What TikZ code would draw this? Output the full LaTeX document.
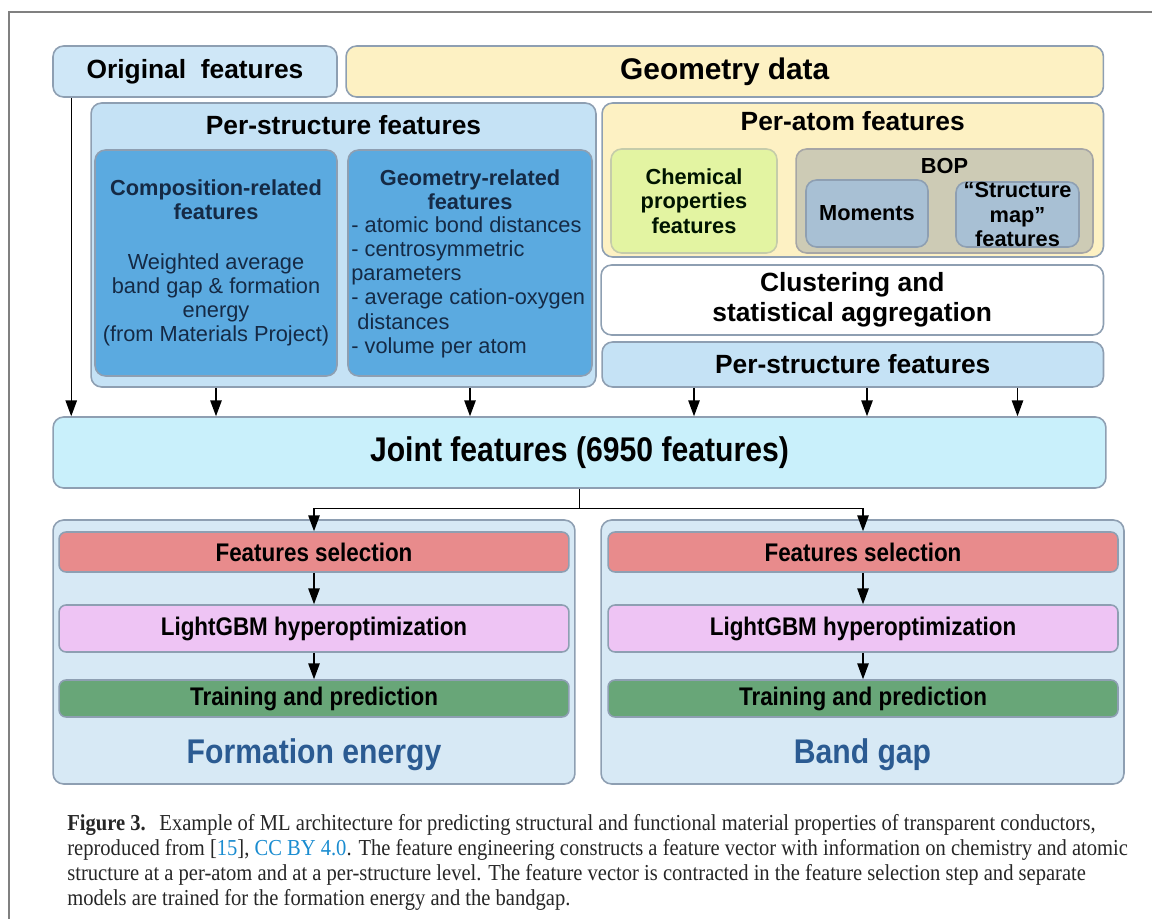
\documentclass[tikz,border=0pt]{standalone}
\usepackage{fontspec}
\setmainfont{Liberation Sans}
\newfontfamily\capfont[FakeStretch=0.9]{Liberation Serif}
\newfontfamily\condfont[FakeStretch=0.88]{Liberation Sans}
\usetikzlibrary{arrows.meta}
\definecolor{edge}{HTML}{8E9FB2}
\definecolor{origblue}{HTML}{CFE7F7}
\definecolor{psblue}{HTML}{C5E2F5}
\definecolor{midblue}{HTML}{5BAAE0}
\definecolor{geoyellow}{HTML}{FDF1C3}
\definecolor{chemgreen}{HTML}{E3F4A2}
\definecolor{bopgray}{HTML}{CDCBB5}
\definecolor{momblue}{HTML}{A8C0D4}
\definecolor{jointcyan}{HTML}{C9F0FB}
\definecolor{panelblue}{HTML}{D7E9F5}
\definecolor{fsred}{HTML}{E88B8C}
\definecolor{lgpink}{HTML}{EEC4F4}
\definecolor{tpgreen}{HTML}{68A678}
\definecolor{fetext}{HTML}{2B5B92}
\definecolor{navy}{HTML}{152A45}
\definecolor{capblue}{HTML}{1A8CD0}
\begin{document}
\begin{tikzpicture}[x=0.02cm,y=-0.02cm,
  box/.style={draw=edge,line width=0.9pt,rounded corners=6pt,inner sep=0pt},
  bar/.style={box,rounded corners=4pt,minimum width=10.2cm},
  arr/.style={-{Triangle[length=9pt,width=6.5pt]},line width=0.7pt},
  ttl/.style={font=\fontsize{15}{17}\selectfont\bfseries},
  sub/.style={font=\fontsize{12.4}{13.8}\selectfont\bfseries},
  body/.style={font=\fontsize{12.4}{13.8}\selectfont},
  stepbox/.style={bar,font=\condfont\fontsize{14.5}{16}\selectfont\bfseries}]
\useasboundingbox (0,0) rectangle (1152,919);
\draw[black!50,line width=1pt] (1152,12) -- (9,12) -- (9,919);

% top row
\node[box,fill=origblue,minimum width=5.68cm,minimum height=1.02cm,ttl] (orig) at (195,71.5) {Original\ \ features};
\node[box,fill=geoyellow,minimum width=15.15cm,minimum height=1.02cm,font=\fontsize{17}{19}\selectfont\bfseries] (geom) at (724.75,71.5) {Geometry data};

% per-structure block
\node[box,fill=psblue,minimum width=10.1cm,minimum height=5.68cm] (perstruct) at (343.5,245) {};
\node[ttl] (pstitle) at (343.5,125) {Per-structure features};
\node[box,fill=midblue,minimum width=4.84cm,minimum height=4.52cm] (comp) at (216,263) {};
\node[align=center,text=navy,body] (comptext) at (comp) {\textbf{Composition-related}\\\textbf{features}\\[2.2ex]Weighted average\\band gap \& formation\\energy\\(from Materials Project)};
\node[box,fill=midblue,minimum width=4.88cm,minimum height=4.52cm] (geomrel) at (470,263) {};
\node[align=center,text=navy,sub] (grtitle) at (470,189.5) {Geometry-related\\features};
\node[anchor=north west,align=left,text=navy,body,inner sep=0pt] (grlist) at (351,216) {- atomic bond distances\\- centrosymmetric\\parameters\\- average cation-oxygen\\\ distances\\- volume per atom};

% per-atom block
\node[box,fill=geoyellow,minimum width=10.03cm,minimum height=3.08cm] (peratom) at (852.75,180) {};
\node[ttl] (patitle) at (852.75,121) {Per-atom features};
\node[box,draw=chemgreen!70!black!60,fill=chemgreen,minimum width=3.32cm,minimum height=2.08cm,align=center,sub,text=black!80!green!40!black] (chem) at (694,201) {Chemical\\properties\\features};
\node[box,draw=black!35,fill=bopgray,minimum width=5.94cm,minimum height=2.08cm] (bop) at (944.5,201) {};
\node[sub] (boptitle) at (944.5,166) {BOP};
\node[box,fill=momblue,minimum width=2.44cm,minimum height=1.34cm,sub] (moments) at (867,213.5) {Moments};
\node[box,fill=momblue,minimum width=2.46cm,minimum height=1.3cm,sub,align=center] (smap) at (1017.5,214.5) {``Structure\\map''\\features};

\node[box,fill=white,minimum width=10.05cm,minimum height=1.4cm,ttl,align=center] (clust) at (852.25,300) {Clustering and\\statistical aggregation};
\node[box,fill=psblue,minimum width=10.03cm,minimum height=0.9cm,ttl] (psright) at (852.75,364.5) {Per-structure features};

% joint
\node[box,fill=jointcyan,minimum width=21.06cm,minimum height=1.42cm,font=\condfont\fontsize{19.5}{21}\selectfont\bfseries] (joint) at (579.5,452.5) {Joint features (6950 features)};

\coordinate (o1) at ([xshift=0.38cm]orig.south west);
\draw[arr] (o1) -- (o1 |- joint.north);
\foreach \n in {comp,geomrel}
  \draw[arr] (perstruct.south -| \n) -- (joint.north -| \n);
\foreach \n in {chem,moments,smap}
  \draw[arr] (psright.south -| \n) -- (joint.north -| \n);

% model panels
\node[box,fill=panelblue,minimum width=10.44cm,minimum height=5.28cm] (panelL) at (314,652) {};
\node[box,fill=panelblue,minimum width=10.46cm,minimum height=5.28cm] (panelR) at (862.5,652) {};
\foreach \s/\x in {L/314,R/863} {
  \node[stepbox,fill=fsred,minimum height=0.8cm] (fs\s) at (\x,552) {Features selection};
  \node[stepbox,fill=lgpink,minimum height=0.94cm] (lg\s) at (\x,628.5) {LightGBM hyperoptimization};
  \node[stepbox,fill=tpgreen,minimum height=0.74cm] (tp\s) at (\x,698.5) {Training and prediction};
  \draw[arr] (fs\s) -- (lg\s);
  \draw[arr] (lg\s) -- (tp\s);
}
\node[text=fetext,font=\condfont\fontsize{19.5}{21}\selectfont\bfseries] (feL) at (314,755) {Formation energy};
\node[text=fetext,font=\condfont\fontsize{19.5}{21}\selectfont\bfseries] (bgR) at (862.5,755) {Band gap};

\coordinate (split) at ([yshift=-0.4cm]joint.south);
\draw[line width=0.7pt] (joint.south) -- (split);
\draw[arr] (split) -| (fsL.north);
\draw[arr] (split) -| (fsR.north);

% caption
\node[anchor=north west,align=left,inner sep=0pt,text=black!85,font=\capfont\fontsize{13}{14.2}\selectfont] (cap) at (67,814) {\textbf{Figure 3.}\hspace{0.6em}Example of ML architecture for predicting structural and functional material properties of transparent conductors,\\
reproduced from [\textcolor{capblue}{15}], \textcolor{capblue}{CC BY 4.0}. The feature engineering constructs a feature vector with information on chemistry and atomic\\
structure at a per-atom and at a per-structure level. The feature vector is contracted in the feature selection step and separate\\
models are trained for the formation energy and the bandgap.};
\end{tikzpicture}
\end{document}
